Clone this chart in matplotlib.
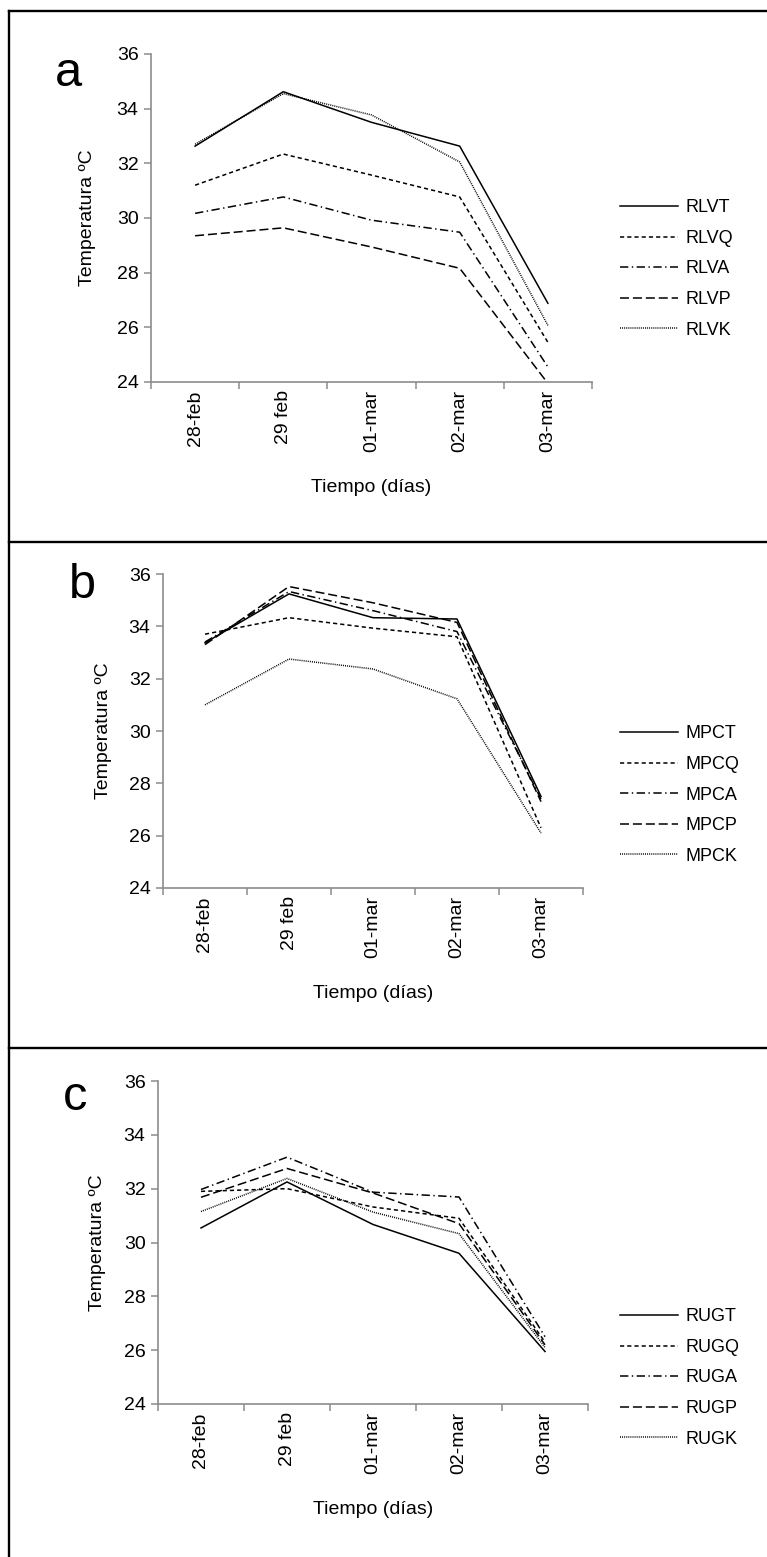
import matplotlib
matplotlib.use("Agg")
import matplotlib.pyplot as plt
from matplotlib.lines import Line2D

W = 767
H = 1557
DPI = 100

DIAS = ['28-feb', '29 feb', '01-mar', '02-mar', '03-mar']

# panel a
RLVT = [32.63, 34.62, 33.50, 32.63, 26.88]
RLVQ = [31.20, 32.34, 31.57, 30.77, 25.45]
RLVA = [30.17, 30.77, 29.92, 29.48, 24.55]
RLVP = [29.35, 29.64, 28.94, 28.16, 23.95]
RLVK = [32.70, 34.55, 33.77, 32.05, 26.07]

# panel b
MPCT = [33.37, 35.24, 34.33, 34.28, 27.50]
MPCQ = [33.70, 34.33, 33.93, 33.60, 26.30]
MPCA = [33.40, 35.33, 34.60, 33.80, 27.40]
MPCP = [33.30, 35.52, 34.90, 34.15, 27.30]
MPCK = [31.00, 32.75, 32.37, 31.23, 26.10]

# panel c
RUGT = [30.54, 32.25, 30.67, 29.60, 25.95]
RUGQ = [31.90, 32.00, 31.32, 30.90, 26.30]
RUGA = [31.97, 33.17, 31.87, 31.69, 26.50]
RUGP = [31.68, 32.75, 31.84, 30.70, 26.20]
RUGK = [31.15, 32.38, 31.13, 30.33, 26.10]

ESTILOS = ['-', (0, (3, 2.2)), (0, (6, 2.5, 1, 2.5)), (0, (6.5, 2.8)), (0, (0.7, 0.8))]

plt.rcParams['font.family'] = ['Liberation Sans', 'DejaVu Sans']
plt.rcParams['lines.scale_dashes'] = False
GRIS = '#8c8c8c'


def fx(px):
    return px / W


def fy(py):
    return 1 - py / H


# (letra, series, nombres, caja de ejes en px, centro de la letra, x del titulo y, centro de la leyenda)
PANELES = [
    ('a', [RLVT, RLVQ, RLVA, RLVP, RLVK], ['RLVT', 'RLVQ', 'RLVA', 'RLVP', 'RLVK'],
     (151, 592, 54, 382), (68, 74), 88, 269),
    ('b', [MPCT, MPCQ, MPCA, MPCP, MPCK], ['MPCT', 'MPCQ', 'MPCA', 'MPCP', 'MPCK'],
     (163, 583, 574, 888), (82, 585), 104, 795),
    ('c', [RUGT, RUGQ, RUGA, RUGP, RUGK], ['RUGT', 'RUGQ', 'RUGA', 'RUGP', 'RUGK'],
     (158, 588, 1081, 1404), (75, 1098), 97, 1378),
]

fig = plt.figure(figsize=(W / DPI, H / DPI), dpi=DPI)

for letra, series, nombres, caja, pos_letra, x_ylab, y_leg in PANELES:
    x0, x1, y0, y1 = caja
    ax = fig.add_axes([fx(x0), fy(y1), fx(x1) - fx(x0), (y1 - y0) / H])
    for s, n, ls in zip(series, nombres, ESTILOS):
        ax.plot(range(len(DIAS)), s, color='black', lw=1.1, ls=ls, label=n)
    ax.set_xlim(-0.5, len(DIAS) - 0.5)
    ax.set_ylim(24, 36)
    ax.set_yticks(range(24, 37, 2))
    ax.set_xticks(range(len(DIAS)))
    ax.set_xticklabels(DIAS, rotation=90, fontsize=14)
    ax.set_xticks([i - 0.5 for i in range(len(DIAS) + 1)], minor=True)
    ax.tick_params(axis='x', which='major', length=0, pad=6)
    ax.tick_params(axis='x', which='minor', length=5, width=1.1, color=GRIS, direction='out')
    ax.tick_params(axis='y', length=5, width=1.1, color=GRIS, labelsize=14, pad=4)
    for lado in ['top', 'right']:
        ax.spines[lado].set_visible(False)
    for lado in ['left', 'bottom']:
        ax.spines[lado].set_color(GRIS)
        ax.spines[lado].set_linewidth(1.2)

    fig.text(fx(pos_letra[0]), fy(pos_letra[1]), letra, fontsize=35,
             ha='center', va='center')
    fig.text(fx(x_ylab), fy((y0 + y1) / 2), 'Temperatura ºC', fontsize=14,
             rotation=90, ha='center', va='center')
    fig.text(fx((x0 + x1) / 2), fy(y1 + 106), 'Tiempo (días)', fontsize=14,
             ha='center', va='center')

    ax.legend(loc='center left', bbox_to_anchor=(fx(620), fy(y_leg)), bbox_transform=fig.transFigure,
              frameon=False, fontsize=13, handlelength=3.2, handletextpad=0.45,
              labelspacing=0.75, borderpad=0, borderaxespad=0)

# marcos de los paneles
bordes = [((9, 767), (11, 11)), ((9, 9), (11, 1557)),
          ((9, 767), (542, 542)), ((9, 767), (1048, 1048))]
for xs, ys in bordes:
    fig.add_artist(Line2D([fx(v) for v in xs], [fy(v) for v in ys], color='black', lw=1.7))

fig.savefig('out.png', dpi=DPI)
